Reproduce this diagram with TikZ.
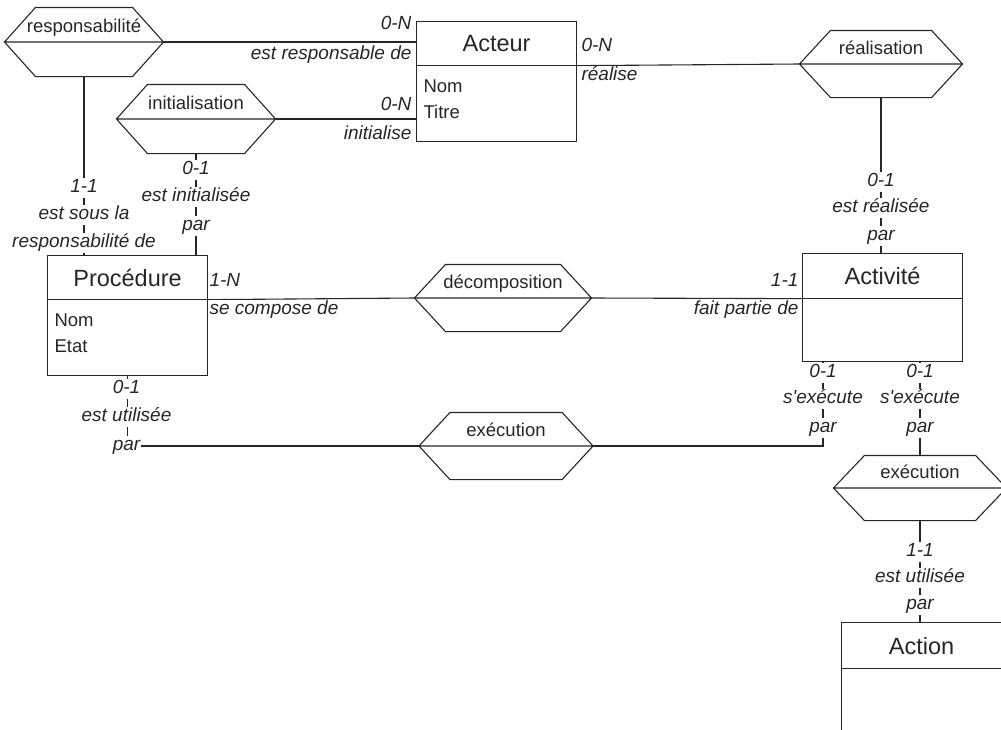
\documentclass[tikz,border=0pt]{standalone}
\usepackage{fontspec}
\setmainfont{Liberation Sans}[Ligatures=TeXOff]
\usetikzlibrary{positioning,shapes.multipart}
\newcommand{\enthead}[2]{\parbox[c][#1][c]{146pt}{\centering #2}}
\newcommand{\entbody}[2]{\parbox[t][#1][t]{146pt}{\fontsize{18.5}{26}\selectfont\rule{0pt}{26pt}#2}}
\newcommand{\hexlabel}[1]{\makebox[0pt]{#1}}

\begin{document}
\begin{tikzpicture}[x=1pt, y=-1pt, line width=1.1pt, color=black!85,
  ent/.style={draw, rectangle split, rectangle split parts=2, inner xsep=7pt,
              inner ysep=0pt, anchor=north west, font=\fontsize{23.5}{26}\selectfont},
  rel/.style={inner sep=0pt, text height=14pt, text depth=33pt,
              font=\fontsize{18.5}{21}\selectfont},
  card/.style={fill=white, inner sep=1pt, text height=13pt, text depth=5pt,
               font=\fontsize{19}{21}\selectfont\itshape}]
  \useasboundingbox (0,0) rectangle (1001,729);
  \clip (0,0) rectangle (1001,729);
  % entites
  \node[ent] (act) at (416,21) {\enthead{43pt}{Acteur}\nodepart{two}\entbody{75pt}{Nom\\Titre}};
  \node[ent] (proc) at (47,255) {\enthead{43pt}{Procédure}\nodepart{two}\entbody{75pt}{Nom\\Etat}};
  \node[ent] (acti) at (802,253) {\enthead{44pt}{Activité}\nodepart{two}\entbody{62pt}{}};
  \node[ent] (acte) at (841,622) {\enthead{45pt}{Action}\nodepart{two}\entbody{75pt}{}};
  % relations
  \node[rel, minimum width=158pt, minimum height=68pt] (resp) at (84,42) {\hexlabel{responsabilité}};
  \node[rel, minimum width=158pt, minimum height=68pt] (init) at (196,119) {\hexlabel{initialisation}};
  \node[rel, minimum width=162pt, minimum height=66pt] (real) at (881,64) {\hexlabel{réalisation}};
  \node[rel, minimum width=176pt, minimum height=66pt] (deco) at (503,298) {\hexlabel{décomposition}};
  \node[rel, minimum width=173pt, minimum height=66pt] (exe1) at (506,446) {\hexlabel{exécution}};
  \node[rel, minimum width=172pt, minimum height=64pt] (exe2) at (920,488) {\hexlabel{exécution}};
  \foreach \x in {resp,init,real,deco,exe1,exe2}
    \draw (\x.west) -- ([xshift=31pt]\x.north west) -- ([xshift=-31pt]\x.north east)
          -- (\x.east) -- ([xshift=-31pt]\x.south east) -- ([xshift=31pt]\x.south west)
          -- cycle (\x.west) -- (\x.east);
  \coordinate (xcol) at (823,0);
  % liens
  \draw (resp.east) -- (resp.east -| act.west);
  \draw (init.east) -- (init.east -| act.west);
  \draw (act.one split east) -- (real.west);
  \draw (real.south) -- (real.south |- acti.north);
  \draw (resp.south) -- (resp.south |- proc.north);
  \draw (init.south) -- (init.south |- proc.north);
  \draw (proc.one split east) -- (deco.west);
  \draw (deco.east) -- (acti.one split west);
  \draw (proc.south) -- (proc.south |- exe1.west) -- (exe1.west);
  \draw (exe1.east) -| (acti.south -| xcol);
  \draw (acti.south -| exe2.north) -- (exe2.north);
  \draw (exe2.south) -- (exe2.south |- acte.north);
  % cardinalites
  \node[card, anchor=east] (rn) at (413,25) {0-N};
  \node[card, anchor=east] (rl) at (413,55) {est responsable de};
  \node[card, anchor=east] (in) at (413,106) {0-N};
  \node[card, anchor=east] (il) at (413,135) {initialise};
  \node[card, anchor=west] (an) at (580,47) {0-N};
  \node[card, anchor=west] (al) at (580,76) {réalise};
  \node[card, anchor=west] (pn) at (208,282) {1-N};
  \node[card, anchor=west] (pl) at (208,310) {se compose de};
  \node[card, anchor=east] (cn) at (800,282) {1-1};
  \node[card, anchor=east] (cl) at (800,310) {fait partie de};
  \node[card] (rc1) at (84,188) {1-1};
  \node[card] (rc2) at (84,215) {est sous la};
  \node[card] (rc3) at (84,243) {responsabilité de};
  \node[card] (ic1) at (196,170) {0-1};
  \node[card] (ic2) at (196,197) {est initialisée};
  \node[card] (ic3) at (196,226) {par};
  \node[card] (ec1) at (881,182) {0-1};
  \node[card] (ec2) at (881,208) {est réalisée};
  \node[card] (ec3) at (881,236) {par};
  \node[card] (pu1) at (126.5,389) {0-1};
  \node[card] (pu2) at (126.5,417) {est utilisée};
  \node[card] (pu3) at (126.5,446) {par};
  \node[card] (xa1) at (823,373) {0-1};
  \node[card] (xa2) at (823,399) {s'exécute};
  \node[card] (xa3) at (823,428) {par};
  \node[card] (xb1) at (920,373) {0-1};
  \node[card] (xb2) at (920,399) {s'exécute};
  \node[card] (xb3) at (920,428) {par};
  \node[card] (au1) at (920,552) {1-1};
  \node[card] (au2) at (920,578) {est utilisée};
  \node[card] (au3) at (920,605) {par};
\end{tikzpicture}
\end{document}
